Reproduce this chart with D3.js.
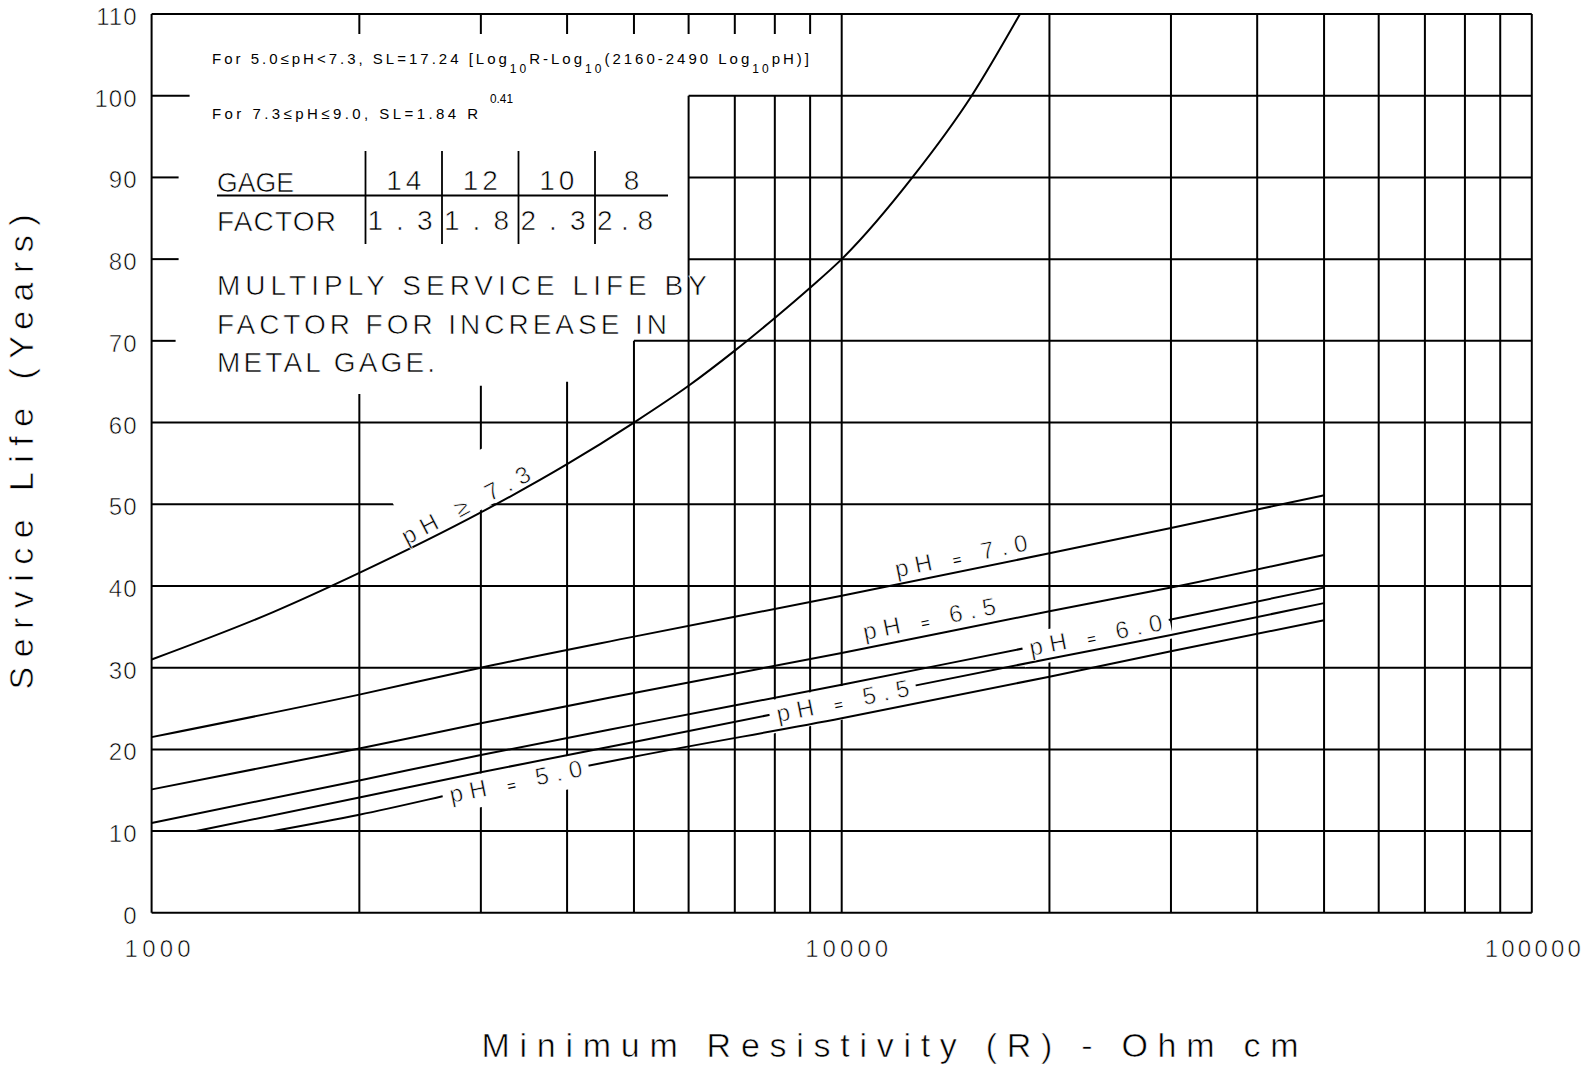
<!DOCTYPE html>
<html>
<head>
<meta charset="utf-8">
<script src="https://cdn.jsdelivr.net/npm/d3@7"></script>
<style>
  html, body { margin: 0; padding: 0; background: #fff; }
  svg { display: block; }
  text { font-family: "Liberation Sans", "DejaVu Sans", Arial, sans-serif; fill: #000; }
  text.thin { stroke: #fff; stroke-width: 0.6px; }
  tspan.eq { stroke: none; }
</style>
</head>
<body>
<svg id="chart" width="1585" height="1069"></svg>
<script>
// ---------------- DATA ----------------
const xTickValues = [1000, 10000, 100000];
const xTickLabels = ["1000", "10000", "100000"];
const yTickValues = [0, 10, 20, 30, 40, 50, 60, 70, 80, 90, 100, 110];
const minorGridR = [2000, 3000, 4000, 5000, 6000, 7000, 8000, 9000, 10000,
                    20000, 30000, 40000, 50000, 60000, 70000, 80000, 90000];
// vertical grid lines stop below the note box (value in years where they end)
const vGridTop = { 2000: 63.5, 3000: 64.5, 4000: 65, 5000: 70, 6000: 100, 7000: 100, 8000: 100, 9000: 100 };
// horizontal grid lines that start to the right of the note box (resistivity where they start)
const hGridStart = { 70: 5000, 80: 6000, 90: 6000, 100: 6000 };

const seriesLabels = ["pH \u2265 7.3", "pH = 7.0", "pH = 6.5", "pH = 6.0", "pH = 5.5", "pH = 5.0"];

const rPH73  = [1000, 1500, 2000, 3000, 4000, 5000, 6000, 7000, 8000, 9000, 10000, 12660, 15430, 18130];
const slPH73 = [31.0, 36.8, 41.6, 49.0, 54.9, 60.0, 64.5, 68.8, 72.8, 76.5, 80.0, 90.0, 100.0, 110.0];

const rPH70  = [1000, 2000, 3000, 5000, 10000, 20000, 30000, 50000];
const slPH70 = [21.5, 26.7, 30.0, 33.8, 38.8, 44.0, 47.1, 51.1];

const rPH65  = [1000, 2000, 3000, 5000, 10000, 20000, 30000, 50000];
const slPH65 = [15.1, 20.1, 23.2, 26.9, 31.8, 36.9, 39.8, 43.8];

const rPH60  = [1000, 2000, 3000, 5000, 10000, 20000, 30000, 50000];
const slPH60 = [11.0, 16.2, 19.3, 23.0, 27.9, 33.0, 35.9, 39.8];

const rPH55  = [1160, 2000, 3000, 5000, 10000, 20000, 30000, 50000];
const slPH55 = [10.0, 14.1, 17.2, 20.9, 26.0, 31.1, 34.0, 37.9];

const rPH50  = [1500, 2000, 3000, 5000, 10000, 20000, 30000, 50000];
const slPH50 = [10.0, 12.0, 15.3, 19.1, 23.8, 28.9, 32.0, 35.8];

const gageValues   = ["14", "12", "10", "8"];
const factorValues = ["1.3", "1.8", "2.3", "2.8"];

const noteLines = ["MULTIPLY SERVICE LIFE BY", "FACTOR FOR INCREASE IN", "METAL GAGE."];

// ---------------- LAYOUT ----------------
const svg = d3.select("#chart");
const x = d3.scaleLog().domain([1000, 100000]).range([151.6, 1531.8]);
const y = d3.scaleLinear().domain([0, 110]).range([912.8, 14]);

const series = [
  { r: rPH73, sl: slPH73 },
  { r: rPH70, sl: slPH70 },
  { r: rPH65, sl: slPH65 },
  { r: rPH60, sl: slPH60 },
  { r: rPH55, sl: slPH55 },
  { r: rPH50, sl: slPH50 }
];

const STROKE = "#000";
const gGrid = svg.append("g").attr("stroke", STROKE).attr("stroke-width", 2).attr("fill", "none");

// horizontal grid lines
const leftStub = { 70: 24, 80: 27, 90: 27, 100: 38 };
yTickValues.forEach(v => {
  const r0 = hGridStart[v] !== undefined ? hGridStart[v] : 1000;
  gGrid.append("line")
    .attr("x1", x(r0)).attr("x2", x(100000))
    .attr("y1", y(v)).attr("y2", y(v));
  if (leftStub[v]) {
    gGrid.append("line")
      .attr("x1", x(1000)).attr("x2", x(1000) + leftStub[v])
      .attr("y1", y(v)).attr("y2", y(v));
  }
});

// vertical grid lines
minorGridR.forEach(r => {
  const top = vGridTop[r] !== undefined ? vGridTop[r] : 110;
  gGrid.append("line")
    .attr("x1", x(r)).attr("x2", x(r))
    .attr("y1", y(0)).attr("y2", y(top));
  if (top < 110) {
    gGrid.append("line")
      .attr("x1", x(r)).attr("x2", x(r))
      .attr("y1", y(110)).attr("y2", y(110) + 20);
  }
});
// frame
gGrid.append("line").attr("x1", x(1000)).attr("x2", x(1000)).attr("y1", y(0)).attr("y2", y(110));
gGrid.append("line").attr("x1", x(100000)).attr("x2", x(100000)).attr("y1", y(0)).attr("y2", y(110));

// ---------------- helpers for labels along curves ----------------
function valueAt(s, R) {
  const lr = Math.log10(R);
  for (let i = 0; i < s.r.length - 1; i++) {
    const a = Math.log10(s.r[i]), b = Math.log10(s.r[i + 1]);
    if (lr >= a && lr <= b) {
      const t = (lr - a) / (b - a);
      return s.sl[i] + t * (s.sl[i + 1] - s.sl[i]);
    }
  }
  return s.sl[s.sl.length - 1];
}
function placement(s, R) {
  const px = x(R), py = y(valueAt(s, R));
  const p1 = [x(R / 1.12), y(valueAt(s, R / 1.12))];
  const p2 = [x(R * 1.12), y(valueAt(s, R * 1.12))];
  const ang = Math.atan2(p2[1] - p1[1], p2[0] - p1[0]) * 180 / Math.PI;
  return { px, py, ang };
}

const labelSpec = [
  { s: 0, R: 2913,  dy: -5, len: 142, cut: false, maskA: [-64, 78], maskP: [-56, -2] },
  { s: 1, R: 15050, dy: -7, len: 135, cut: false },
  { s: 2, R: 13540, dy: -8, len: 135, cut: false },
  { s: 3, R: 23330, dy: 9,  len: 135, cut: true },
  { s: 4, R: 10030, dy: 9,  len: 135, cut: true },
  { s: 5, R: 3368,  dy: 9,  len: 135, cut: true }
];
labelSpec.forEach(d => { Object.assign(d, placement(series[d.s], d.R)); });

// big white masks (hide grid lines behind labels)
const gMask = svg.append("g").attr("fill", "#fff").attr("stroke", "none");
labelSpec.forEach(d => {
  let a0, a1, p0, p1;
  if (d.maskA) { [a0, a1] = d.maskA; [p0, p1] = d.maskP; }
  else if (d.cut) { a0 = -d.len / 2 - 8; a1 = d.len / 2 + 8; p0 = -14; p1 = 19; }
  else return;
  gMask.append("rect")
    .attr("transform", `translate(${d.px},${d.py}) rotate(${d.ang})`)
    .attr("x", a0).attr("y", p0).attr("width", a1 - a0).attr("height", p1 - p0);
});

// curves
const line = d3.line().x(d => x(d[0])).y(d => y(d[1])).curve(d3.curveMonotoneX);
const gLines = svg.append("g").attr("fill", "none").attr("stroke", STROKE).attr("stroke-width", 2);
series.forEach(s => {
  gLines.append("path").attr("d", line(s.r.map((r, i) => [r, s.sl[i]])));
});

// narrow masks to break lines under their own labels
const gCut = svg.append("g").attr("fill", "#fff");
labelSpec.filter(d => d.cut).forEach(d => {
  gCut.append("rect")
    .attr("transform", `translate(${d.px},${d.py}) rotate(${d.ang})`)
    .attr("x", -d.len / 2 - 7).attr("y", -4).attr("width", d.len + 14).attr("height", 8);
});

// labels
const gLab = svg.append("g");
labelSpec.forEach(d => {
  const g = gLab.append("g").attr("transform", `translate(${d.px},${d.py}) rotate(${d.ang})`);
  const parts = seriesLabels[d.s].split(" ");
  const t = g.append("text").attr("class", "thin")
    .attr("x", 0).attr("y", d.dy)
    .attr("text-anchor", "middle")
    .attr("font-size", 24)
    .attr("textLength", d.len).attr("lengthAdjust", "spacing");
  t.append("tspan").text(parts[0] + " ");
  if (parts[1] === "=") t.append("tspan").attr("class", "eq").attr("font-size", 15).text(parts[1]);
  else t.append("tspan").text(parts[1]);
  t.append("tspan").text(" " + parts[2]);
});

// ---------------- tick labels ----------------
const gTickY = svg.append("g");
yTickValues.forEach(v => {
  gTickY.append("text").attr("class", "thin")
    .attr("x", 137.5).attr("y", y(v) + 11)
    .attr("text-anchor", "end").attr("font-size", 24)
    .attr("letter-spacing", 1)
    .text(String(v));
});
const xTickLen = [66, 83, 96];
const xTickShift = [6, 5, 1];
xTickValues.forEach((v, i) => {
  svg.append("text").attr("class", "thin")
    .attr("x", x(v) + xTickShift[i]).attr("y", 957)
    .attr("text-anchor", "middle").attr("font-size", 24)
    .attr("textLength", xTickLen[i]).attr("lengthAdjust", "spacing")
    .text(xTickLabels[i]);
});

// axis titles
svg.append("text").attr("class", "thin")
  .attr("x", 890).attr("y", 1057)
  .attr("text-anchor", "middle").attr("font-size", 34)
  .attr("textLength", 817).attr("lengthAdjust", "spacing")
  .text("Minimum Resistivity (R) - Ohm cm");
svg.append("g").attr("transform", "translate(32.5,452) rotate(-90)")
  .append("text").attr("class", "thin")
  .attr("x", 0).attr("y", 0)
  .attr("text-anchor", "middle").attr("font-size", 34)
  .attr("textLength", 475).attr("lengthAdjust", "spacing")
  .text("Service Life (Years)");

// ---------------- notes / formula / table ----------------
function fit(sel, target) {
  const n = sel.node().getComputedTextLength();
  sel.attr("textLength", target).attr("lengthAdjust", n > target ? "spacingAndGlyphs" : "spacing");
  return sel;
}

// formula line 1
const f1 = svg.append("text").attr("x", 212).attr("y", 64).attr("font-size", 15);
f1.append("tspan").text("For 5.0\u2264pH<7.3, SL=17.24 [Log");
f1.append("tspan").attr("font-size", 12).attr("dy", 9).text("10");
f1.append("tspan").attr("dy", -9).text("R-Log");
f1.append("tspan").attr("font-size", 12).attr("dy", 9).text("10");
f1.append("tspan").attr("dy", -9).text("(2160-2490 Log");
f1.append("tspan").attr("font-size", 12).attr("dy", 9).text("10");
f1.append("tspan").attr("dy", -9).text("pH)]");
fit(f1, 597);

// formula line 2
const f2 = svg.append("text").attr("x", 212).attr("y", 119).attr("font-size", 15)
  .text("For 7.3\u2264pH\u22649.0, SL=1.84 R");
fit(f2, 266);
const f2s = svg.append("text").attr("x", 490).attr("y", 103).attr("font-size", 13).text("0.41");
fit(f2s, 23);

// gage table
const sepX = [365.5, 442, 518.5, 595];
const gTab = svg.append("g").attr("stroke", STROKE).attr("stroke-width", 1.8);
sepX.forEach(sx => gTab.append("line").attr("x1", sx).attr("x2", sx).attr("y1", 151).attr("y2", 244));
gTab.append("line").attr("x1", 217).attr("x2", 668).attr("y1", 195.5).attr("y2", 195.5);

fit(svg.append("text").attr("class", "thin").attr("x", 217).attr("y", 192).attr("font-size", 28).text("GAGE"), 77);
fit(svg.append("text").attr("class", "thin").attr("x", 217).attr("y", 231).attr("font-size", 28).text("FACTOR"), 119);
const colEnd = [442, 518.5, 595, 668];
gageValues.forEach((g, i) => {
  const cx = (sepX[i] + colEnd[i]) / 2;
  const t = svg.append("text").attr("class", "thin").attr("x", cx).attr("y", 190).attr("text-anchor", "middle")
    .attr("font-size", 28).text(g);
  if (g.length > 1) fit(t, 35);
});
factorValues.forEach((f, i) => {
  const t = svg.append("text").attr("class", "thin").attr("x", sepX[i] + 2).attr("y", 230)
    .attr("font-size", 28).text(f);
  fit(t, i === 3 ? 56 : 65);
});

const noteLen = [490, 450, 218];
const noteBase = [295, 334, 372];
noteLines.forEach((s, i) => {
  fit(svg.append("text").attr("class", "thin").attr("x", 217).attr("y", noteBase[i]).attr("font-size", 28).text(s), noteLen[i]);
});
</script>
</body>
</html>
